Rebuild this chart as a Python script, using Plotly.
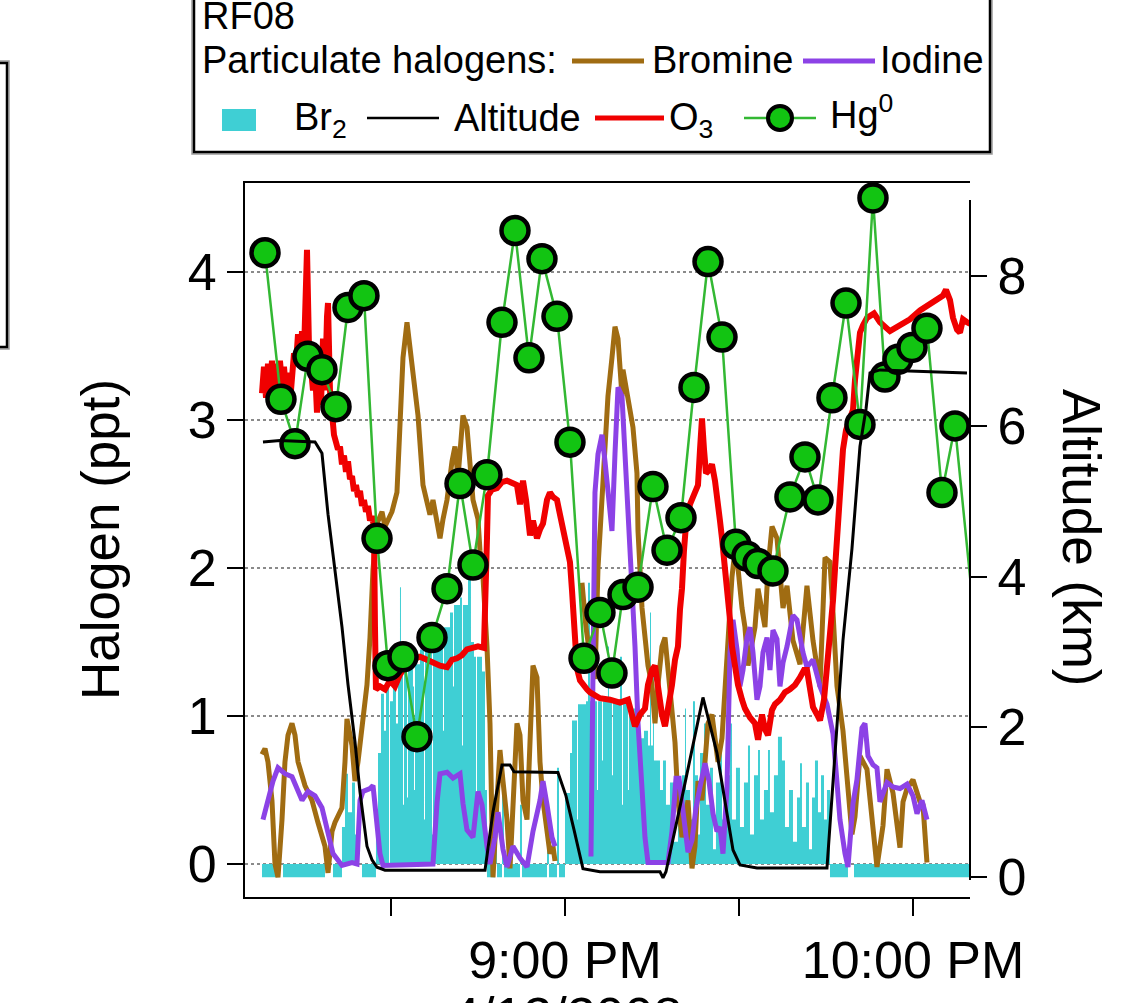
import pandas as pd
import plotly.graph_objects as go

# ---------------- data (time = minutes after 8:00 PM, 4/12/2008) ----------------
BASE = pd.Timestamp("2008-04-12 20:00:00")

# Altitude (km, right axis)
alt_min = [7.93, 10.86, 16.90, 18.10, 19.14, 20.34, 21.55, 22.59, 23.79, 24.66, 25.86, 26.72,
           27.59, 28.97, 46.21, 47.59, 49.14, 50.52, 51.21, 58.79, 60.17, 61.55, 63.10, 66.03,
           76.38, 76.90, 77.41, 80.34, 83.79, 86.21, 88.97, 90.17, 93.10, 105.17, 106.55, 107.93,
           109.48, 110.86, 111.90, 112.59, 114.31, 129.31]
alt_km = [5.79, 5.81, 5.79, 5.64, 4.83, 4.11, 3.33, 2.56, 1.80, 1.13, 0.41, 0.23,
          0.13, 0.09, 0.09, 0.87, 1.49, 1.49, 1.40, 1.39, 1.08, 0.63, 0.11, 0.07,
          0.07, -0.01, 0.07, 1.12, 2.39, 1.65, 0.36, 0.16, 0.12, 0.12, 1.61, 3.15,
          4.37, 5.73, 6.23, 6.71, 6.75, 6.71]

# Hg0 (plotted on halogen scale)
hg_min = [8.28, 11.03, 13.45, 15.69, 18.10, 20.52, 22.59, 25.34, 27.59, 29.48, 32.07, 34.48,
          37.07, 39.66, 41.90, 44.14, 46.55, 49.14, 51.38, 53.79, 56.03, 58.62, 60.86, 63.28,
          66.03, 68.10, 70.00, 72.59, 75.17, 77.59, 80.00, 82.24, 84.66, 87.07, 89.48, 91.38,
          93.28, 95.86, 98.79, 101.38, 103.62, 106.03, 108.45, 110.86, 113.10, 115.17, 117.41,
          119.83, 122.41, 125.00, 127.24, 132.41]
hg_val = [4.13, 3.14, 2.84, 3.43, 3.34, 3.09, 3.76, 3.84, 2.20, 1.34, 1.40, 0.86,
          1.53, 1.86, 2.57, 2.02, 2.63, 3.66, 4.28, 3.42, 4.09, 3.70, 2.85, 1.39,
          1.70, 1.29, 1.82, 1.87, 2.55, 2.12, 2.34, 3.22, 4.07, 3.56, 2.16, 2.08,
          2.03, 1.98, 2.48, 2.75, 2.46, 3.15, 3.79, 2.97, 4.50, 3.29, 3.41,
          3.49, 3.62, 2.51, 2.96, 0.93]

# O3 (plotted on halogen scale) as (minute, value)
o3_pts = [(7.76,3.18),(8.10,3.36),(8.45,3.15),(8.79,3.38),(9.14,3.20),(9.48,3.40),(9.83,3.22),
          (10.17,3.38),(10.52,3.20),(10.86,3.40),(11.21,3.24),(11.55,3.36),(11.90,3.20),(12.24,3.32),
          (12.59,3.12),(12.93,3.30),(13.28,3.45),(13.62,3.38),(13.97,3.58),(14.31,3.40),(14.66,3.60),
          (15.00,3.45),(15.34,3.90),(15.52,4.15),(15.86,3.50),(16.21,3.35),(16.55,3.20),(16.90,3.35),
          (17.24,3.05),(17.59,3.30),(17.93,3.10),(18.28,3.55),(18.62,3.20),(18.97,3.70),(19.14,3.79),
          (19.48,3.20),(19.83,2.98),(20.17,2.90),(20.52,2.85),(20.86,2.80),(21.21,2.82),(21.55,2.70),
          (21.90,2.76),(22.24,2.65),(22.59,2.72),(22.93,2.60),(23.28,2.62),(23.62,2.52),(23.97,2.56),
          (24.31,2.48),(24.66,2.52),(25.00,2.42),(25.34,2.46),(25.69,2.38),(26.03,2.42),(26.38,2.32),
          (26.72,2.35),(27.07,2.28),(27.24,1.60),(27.41,1.18),(28.10,1.20),(28.97,1.18),(29.83,1.24),
          (30.69,1.20),(31.55,1.28),(32.41,1.33),(33.62,1.38),(35.00,1.40),(36.21,1.38),(37.24,1.36),
          (38.45,1.34),(39.66,1.33),(40.52,1.38),(41.38,1.39),(42.24,1.41),(43.10,1.45),(44.14,1.46),
          (45.00,1.47),(46.03,1.46),(46.38,1.80),(46.55,2.20),(46.72,2.49),(47.41,2.53),(48.28,2.54),
          (49.14,2.58),(50.00,2.59),(50.86,2.57),(51.72,2.56),(52.24,2.43),(52.76,2.59),(53.28,2.46),
          (53.97,2.22),(54.48,2.32),(55.17,2.20),(55.69,2.26),(56.21,2.30),(56.90,2.46),(57.41,2.51),
          (57.93,2.48),(58.62,2.46),(59.14,2.36),(59.66,2.25),(60.34,2.12),(60.86,2.04),(61.21,1.85),
          (61.38,1.73),(61.72,1.51),(62.07,1.32),(62.59,1.24),(63.10,1.21),(63.79,1.18),(64.31,1.16),
          (65.17,1.14),(66.03,1.12),(67.76,1.11),(69.48,1.09),(70.86,1.11),(71.55,1.01),(72.07,0.93),
          (72.93,1.01),(73.79,1.05),(74.31,1.21),(75.00,1.31),(75.52,1.34),(76.03,1.18),(76.72,1.01),
          (77.24,0.93),(77.76,1.04),(78.45,1.21),(78.97,1.38),(79.48,1.47),(79.83,1.72),(80.17,1.86),
          (80.52,2.12),(80.86,2.29),(81.55,2.43),(82.24,2.51),(82.93,2.56),(83.28,2.80),(83.62,3.01),
          (83.97,2.80),(84.31,2.64),(84.83,2.66),(85.34,2.70),(85.86,2.59),(86.38,2.46),(86.72,2.32),
          (87.07,2.20),(87.59,2.02),(88.10,1.84),(88.45,1.65),(88.79,1.47),(89.31,1.31),(89.83,1.21),
          (90.52,1.11),(91.03,1.05),(91.90,0.99),(92.76,0.95),(93.28,0.84),(93.97,1.01),(94.48,0.91),
          (95.00,0.87),(95.69,1.04),(96.21,1.08),(97.07,1.11),(97.93,1.16),(98.79,1.18),(99.66,1.21),
          (100.52,1.26),(101.21,1.31),(101.72,1.31),(102.24,1.18),(102.76,1.06),(103.45,1.01),
          (103.97,0.97),(104.66,1.11),(105.17,1.31),(105.69,1.51),(106.21,1.78),(106.55,1.99),
          (106.90,2.19),(107.41,2.49),(107.93,2.80),(108.45,2.93),(109.14,3.03),(109.66,3.07),
          (110.00,3.27),(110.34,3.38),(110.86,3.59),(111.38,3.64),(112.07,3.69),(113.28,3.72),
          (114.31,3.66),(116.03,3.60),(117.76,3.64),(119.48,3.68),(121.21,3.74),(122.93,3.78),
          (124.66,3.82),(125.17,3.84),(125.69,3.88),(126.38,3.81),(126.90,3.69),(127.59,3.61),
          (128.10,3.59),(128.62,3.68),(129.31,3.66),(129.83,3.65)]

# Particulate bromine (ppt); None = data gap
bromine_pts = [(7.76,0.74),(8.28,0.78),(8.79,0.69),(9.48,0.43),(10.00,0.00),(10.52,-0.09),(11.21,0.30),
               (11.72,0.69),(12.24,0.87),(12.93,0.95),(13.45,0.87),(13.97,0.69),(15.17,0.53),(16.38,0.43),
               (17.41,0.28),(18.62,0.12),(19.14,-0.06),(19.83,0.22),(20.34,0.28),(21.55,0.38),(22.07,0.69),
               (22.41,0.98),(23.28,0.80),(23.79,0.56),(24.31,0.69),(25.17,0.95),(25.86,1.21),(26.38,1.53),
               (26.90,1.99),(27.59,2.30),(28.45,2.38),(28.97,2.28),(30.17,2.38),(31.03,2.51),(31.55,3.03),
               (32.07,3.42),(32.76,3.66),(33.28,3.50),(33.79,3.29),(34.66,3.03),(35.52,2.56),(36.72,2.36),
               (37.24,2.46),(37.93,2.30),(38.45,2.20),(38.97,2.33),(39.66,2.46),(40.52,2.72),(41.03,2.82),
               (41.55,2.61),(42.41,3.03),(43.10,2.95),(43.62,2.72),(44.14,2.46),(45.00,2.33),(45.34,2.12),
               (45.86,1.94),(46.55,1.47),(47.07,0.95),(47.41,0.43),(47.59,-0.09),(48.28,0.43),(48.79,0.77),
               (49.31,0.56),(50.00,0.30),(50.52,-0.03),(51.03,0.43),(51.72,0.95),(52.24,0.87),(52.76,0.43),
               (53.45,0.30),(53.97,0.95),(54.48,1.34),(55.17,1.26),(55.69,0.69),(56.21,0.43),(56.90,0.22),
               (57.41,0.07),(57.93,0.12),(58.28,0.02),(60.50,None),(62.93,1.90),(63.62,1.60),(64.31,1.40),
               (65.17,1.25),(65.69,2.00),(66.38,2.51),(66.90,2.82),(67.41,3.16),(68.10,3.42),(68.62,3.63),
               (69.14,3.55),(69.83,3.16),(70.00,3.34),(70.69,3.19),(71.21,3.03),(71.72,2.95),(72.41,2.64),
               (72.59,2.25),(73.28,1.73),(73.79,1.53),(74.31,1.34),(75.00,1.21),(75.52,0.95),(76.03,1.21),
               (76.72,1.47),(77.24,1.53),(77.76,1.34),(78.45,1.08),(78.97,0.82),(79.48,0.43),(80.17,0.18),
               (81.21,0.43),(81.90,-0.03),(82.41,0.12),(82.93,0.56),(83.62,0.43),(84.66,0.95),(85.34,1.01),
               (85.86,0.85),(86.38,0.69),(87.07,0.85),(87.59,1.21),(88.10,1.60),(88.79,1.94),(89.31,2.12),
               (89.83,2.00),(90.52,1.73),(91.03,1.60),(91.55,1.34),(92.24,1.47),(92.76,1.60),(93.28,1.86),
               (93.97,1.73),(94.48,1.60),(95.00,2.00),(95.69,2.28),(96.55,2.20),(97.07,2.00),(97.59,1.73),
               (98.28,1.88),(99.31,1.51),(100.52,1.35),(101.72,1.88),(102.76,1.51),(103.97,1.20),
               (104.83,2.07),(105.69,2.04),(106.21,1.70),(106.90,1.20),(107.93,0.90),(108.62,0.58),
               (109.48,0.20),(110.00,0.32),(110.86,0.73),(112.07,0.64),(113.10,0.26),(113.79,-0.02),
               (114.83,0.26),(115.52,0.64),(116.55,0.48),(117.76,0.11),(118.28,0.42),(118.97,0.51),
               (120.00,0.57),(121.21,0.42),(121.72,0.40),(122.41,0.01)]

# Particulate iodine (ppt); None = data gap
iodine_pts = [(7.93,0.30),(8.79,0.43),(9.66,0.56),(10.52,0.65),(11.72,0.61),(12.93,0.59),(13.97,0.49),
              (14.66,0.43),(15.69,0.49),(16.90,0.46),(18.10,0.38),(19.14,0.22),(20.00,0.07),(21.55,-0.01),
              (23.28,0.01),(24.14,0.00),(24.66,0.43),(25.17,0.49),(26.38,0.51),(26.90,0.53),(27.59,0.30),
              (28.10,0.07),(28.62,-0.01),(37.24,0.00),(37.93,0.41),(38.45,0.61),(39.66,0.62),(40.69,0.58),
              (41.90,0.61),(42.41,0.41),(43.10,0.23),(44.14,0.18),(45.00,0.49),(45.69,0.40),(46.55,0.12),
              (47.07,0.00),(47.93,0.18),(48.45,0.35),(49.31,0.10),(50.00,-0.02),(51.03,0.12),(52.24,0.04),
              (53.45,-0.02),(54.48,0.22),(55.69,0.43),(56.21,0.56),(56.90,0.40),(57.76,0.18),(58.28,0.12),
              (60.00,None),(64.48,0.05),(65.17,2.51),(65.69,2.77),(66.38,2.90),(66.90,2.72),(67.41,2.51),
              (68.10,2.25),(68.62,2.77),(69.14,3.22),(69.83,3.16),(70.34,2.77),(70.86,2.51),(71.55,1.99),
              (72.07,1.47),(72.59,0.95),(73.28,0.56),(73.79,0.18),(74.31,0.01),(77.76,0.01),(78.45,0.22),
              (79.14,0.58),(79.66,0.58),(80.34,0.36),(81.21,0.08),(81.90,0.16),(82.59,0.38),(83.28,0.52),
              (84.14,0.68),(84.83,0.56),(85.52,0.34),(86.21,0.22),(86.72,0.25),(87.24,0.07),(87.93,0.52),
              (88.45,1.43),(88.97,1.65),(89.66,1.45),(90.17,1.20),(90.69,1.31),(91.38,1.53),(91.90,1.60),
              (92.41,1.43),(93.10,1.11),(93.62,1.20),(94.14,1.43),(94.83,1.53),(95.34,1.31),(95.86,1.58),
              (96.55,1.52),(97.07,1.20),(97.59,1.36),(98.28,1.47),(99.31,1.68),(100.00,1.65),(101.03,1.43),
              (101.72,1.33),(102.76,1.38),(103.97,1.20),(105.17,1.08),(106.21,0.88),(106.90,0.55),
              (107.41,0.30),(108.28,0.07),(108.79,-0.02),(109.66,0.41),(110.34,0.57),(111.21,0.92),
              (111.72,0.95),(112.24,0.73),(113.10,0.67),(113.79,0.65),(114.31,0.42),(115.52,0.55),
              (116.55,0.52),(117.76,0.51),(118.97,0.54),(120.00,0.46),(120.69,0.34),(121.55,0.43),
              (122.41,0.30)]

# Br2 (ppt), stepped samples
br2_pts = [(7.76,-0.09),(10.34,0),(11.38,-0.09),(18.62,0),(20.00,-0.09),(21.55,0.25),(22.07,0.61),
           (22.59,0.35),(23.28,0.55),(23.79,0.20),(24.31,0),(25.00,-0.09),(27.41,0.30),(27.76,0.75),
           (28.28,1.15),(28.79,0.90),(29.14,1.20),(29.66,0.0),(29.83,1.10),(30.34,1.25),(30.86,0.95),
           (31.21,1.30),(31.55,1.87),(31.72,1.30),(32.07,0.40),(32.24,1.35),(32.76,0.45),(32.93,1.40),
           (33.79,1.20),(33.97,0.50),(34.14,1.35),(35.00,1.45),(35.69,0.30),(35.86,1.45),(36.72,1.50),
           (37.07,0.20),(37.24,1.50),(38.45,1.60),(38.97,0.90),(39.14,1.60),(40.17,1.70),(40.69,1.20),
           (40.86,1.75),(41.90,1.80),(42.24,0.80),(42.41,1.75),(43.28,1.95),(43.62,2.00),(43.79,1.50),
           (44.31,1.40),(44.66,0.40),(44.83,1.40),(45.69,1.30),(46.21,0.50),(46.55,-0.09),(47.93,0.43),
           (48.28,-0.09),(49.14,0.60),(49.48,-0.09),(52.24,0.40),(52.59,-0.09),(56.90,0.25),(57.24,-0.09),
           (58.62,0.65),(58.97,-0.09),(60.00,0.48),(60.86,0.75),(61.21,0.97),(62.07,0.30),(62.24,1.08),
           (63.62,1.10),(63.97,1.90),(64.31,1.10),(65.52,0.50),(65.69,1.10),(66.38,0.70),(66.55,1.10),
           (67.41,1.47),(67.59,1.10),(68.10,0.60),(68.28,1.10),(69.48,1.40),(69.83,0.40),(70.00,1.10),
           (70.86,0.50),(71.03,1.05),(72.24,1.00),(72.76,0.85),(73.62,0.90),(74.31,0.80),(74.66,1.70),
           (74.83,0.80),(75.17,1.30),(75.34,0.70),(76.38,0.50),(76.90,0.70),(77.41,0.40),(78.10,0.55),
           (78.79,0.15),(79.48,0.30),(80.17,0.60),(80.69,1.05),(80.86,0.50),(81.55,0.30),(82.07,1.10),
           (82.41,0.60),(82.93,0.20),(83.28,0.75),(83.97,0.95),(84.31,0.40),(85.00,0.65),(85.52,0.10),
           (86.03,0.55),(86.72,0.82),(87.07,0.30),(87.93,0.60),(88.45,0.95),(88.79,0.30),(89.48,0.65),
           (90.17,0.25),(90.86,0.55),(91.55,0.80),(91.90,0.20),(92.59,0.60),(93.28,0.77),(93.62,0.30),
           (94.31,0.50),(95.00,0.77),(95.34,0.35),(96.03,0.60),(96.72,0.86),(97.41,0.70),(97.93,0.25),
           (98.62,0.50),(99.31,0.15),(100.00,0.45),(100.52,0.68),(100.86,0.25),(101.55,0.55),
           (102.07,0.10),(102.59,0.45),(103.10,0.70),(103.62,0.35),(104.14,0.60),(104.66,0.30),
           (105.17,0.50),(105.69,-0.09),(108.79,0),(109.83,-0.09),(129.83,-0.09)]

# axis ticks
x_tick_min = [30, 60, 90, 120]
x_tick_text = ["", "9:00 PM", "", "10:00 PM"]
y_left_ticks = [0, 1, 2, 3, 4]
y_right_ticks = [0, 2, 4, 6, 8]

# ---------------- helpers ----------------
def to_time(mins):
    return [BASE + pd.Timedelta(minutes=float(m)) for m in mins]

def split(pts):
    t, v = zip(*pts)
    return to_time(t), list(v)

# plot area in pixels: left 245, right 970, top 183, bottom 897
def px(x):
    return (x - 245) / 725.0

def py(y):
    return (897 - y) / 714.0

CYAN = "#3FCFD4"
BROWN = "#A06C12"
PURPLE = "#8C42E6"
RED = "#F00000"
GREEN_LINE = "#33B833"
GREEN_MARK = "#12C412"
FONT = "Liberation Sans, Arial, sans-serif"

fig = go.Figure()

bt, bv = split(br2_pts)
fig.add_trace(go.Scatter(x=bt, y=bv, mode="lines", fill="tozeroy", fillcolor=CYAN,
                         line=dict(width=0, shape="hv", color=CYAN), hoverinfo="skip"))

t, v = split(bromine_pts)
fig.add_trace(go.Scatter(x=t, y=v, mode="lines", line=dict(color=BROWN, width=5),
                         connectgaps=False, hoverinfo="skip"))

t, v = split(iodine_pts)
fig.add_trace(go.Scatter(x=t, y=v, mode="lines", line=dict(color=PURPLE, width=5),
                         connectgaps=False, hoverinfo="skip"))

fig.add_trace(go.Scatter(x=to_time(alt_min), y=alt_km, yaxis="y2", mode="lines",
                         line=dict(color="black", width=3), hoverinfo="skip"))

t, v = split(o3_pts)
fig.add_trace(go.Scatter(x=t, y=v, mode="lines", line=dict(color=RED, width=6), hoverinfo="skip"))

fig.add_trace(go.Scatter(x=to_time(hg_min), y=hg_val, mode="lines+markers",
                         line=dict(color=GREEN_LINE, width=2.5),
                         marker=dict(size=27, color=GREEN_MARK, line=dict(color="black", width=4.5)),
                         hoverinfo="skip"))

shapes = []
# right axis line (shorter than frame)
shapes.append(dict(type="line", xref="paper", yref="paper", x0=1, x1=1, y0=py(880), y1=py(200),
                   line=dict(color="black", width=2)))
# legend box
shapes.append(dict(type="rect", xref="paper", yref="paper", x0=px(192), x1=px(992), y0=py(154), y1=py(-12),
                   line=dict(color="#9a9a9a", width=1.5)))
shapes.append(dict(type="rect", xref="paper", yref="paper", x0=px(194), x1=px(990), y0=py(152), y1=py(-10),
                   line=dict(color="black", width=2.5)))
# partially visible box on the left edge
shapes.append(dict(type="rect", xref="paper", yref="paper", x0=px(-30), x1=px(9), y0=py(349), y1=py(61),
                   line=dict(color="#9a9a9a", width=1.5)))
shapes.append(dict(type="rect", xref="paper", yref="paper", x0=px(-30), x1=px(7), y0=py(347), y1=py(63),
                   line=dict(color="black", width=2.5)))
# legend symbols
def hline(x0, x1, y, color, w):
    return dict(type="line", xref="paper", yref="paper", x0=px(x0), x1=px(x1), y0=py(y), y1=py(y),
                line=dict(color=color, width=w))
shapes.append(hline(572, 644, 61, BROWN, 5))
shapes.append(hline(803, 875, 61, PURPLE, 5))
shapes.append(dict(type="rect", xref="paper", yref="paper", x0=px(222), x1=px(256), y0=py(131), y1=py(109),
                   fillcolor=CYAN, line=dict(width=0)))
shapes.append(hline(367, 439, 118, "black", 2.5))
shapes.append(hline(595, 664, 118, RED, 5))
shapes.append(hline(744, 816, 118, GREEN_LINE, 2.5))
shapes.append(dict(type="circle", xref="paper", yref="paper", x0=px(768), x1=px(792), y0=py(130), y1=py(106),
                   fillcolor=GREEN_MARK, line=dict(color="black", width=4)))

annotations = []
def label(text, x, y, size=38, **kw):
    d = dict(text=text, xref="paper", yref="paper", x=px(x), y=py(y), showarrow=False,
             xanchor="left", yanchor="middle", font=dict(family=FONT, size=size, color="black"))
    d.update(kw)
    return d

annotations.append(label("RF08", 200, 16))
annotations.append(label("Particulate halogens:", 200, 60))
annotations.append(label("Bromine", 650, 60))
annotations.append(label("Iodine", 878, 60))
annotations.append(label("Br<sub>2</sub>", 292, 120))
annotations.append(label("Altitude", 452, 118))
annotations.append(label("O<sub>3</sub>", 667, 120))
annotations.append(label("Hg<sup>0</sup>", 828, 112))
annotations.append(label("Halogen (ppt)", 100, 540, size=53, xanchor="center", textangle=-90))
annotations.append(label("Altitude (km)", 1082, 537, size=53, xanchor="center", textangle=90))
annotations.append(label("4/12/2008", 566, 985, size=52, xanchor="center", yanchor="top"))

fig.update_layout(
    width=1129, height=1003,
    margin=dict(l=245, r=159, t=183, b=106, autoexpand=False),
    paper_bgcolor="white", plot_bgcolor="white", showlegend=False,
    font=dict(family=FONT, size=52, color="black"),
    xaxis=dict(type="date", range=to_time([4.83, 129.83]),
               tickvals=to_time(x_tick_min), ticktext=x_tick_text,
               ticks="outside", ticklen=17, tickwidth=2, tickcolor="black",
               showline=True, linewidth=2, linecolor="black", mirror=True,
               showgrid=False, zeroline=False, tickfont=dict(size=52)),
    yaxis=dict(range=[-0.223, 4.601], tickvals=y_left_ticks,
               ticks="outside", ticklen=16, tickwidth=2, tickcolor="black",
               showline=True, linewidth=2, linecolor="black",
               showgrid=True, gridcolor="#8a8a8a", griddash="dot", gridwidth=1.5,
               zeroline=False, tickfont=dict(size=52)),
    yaxis2=dict(overlaying="y", side="right", range=[-0.266, 9.238], tickvals=y_right_ticks,
                ticks="outside", ticklen=16, tickwidth=2, tickcolor="black",
                showline=False, showgrid=False, zeroline=False, tickfont=dict(size=52)),
    shapes=shapes, annotations=annotations,
)

# remove the default 8 px page margin so the figure sits at the window's top-left corner
fig.write_html("out.html", config={"displayModeBar": False},
               post_script="document.body.style.margin='0';document.body.style.overflow='hidden';")
